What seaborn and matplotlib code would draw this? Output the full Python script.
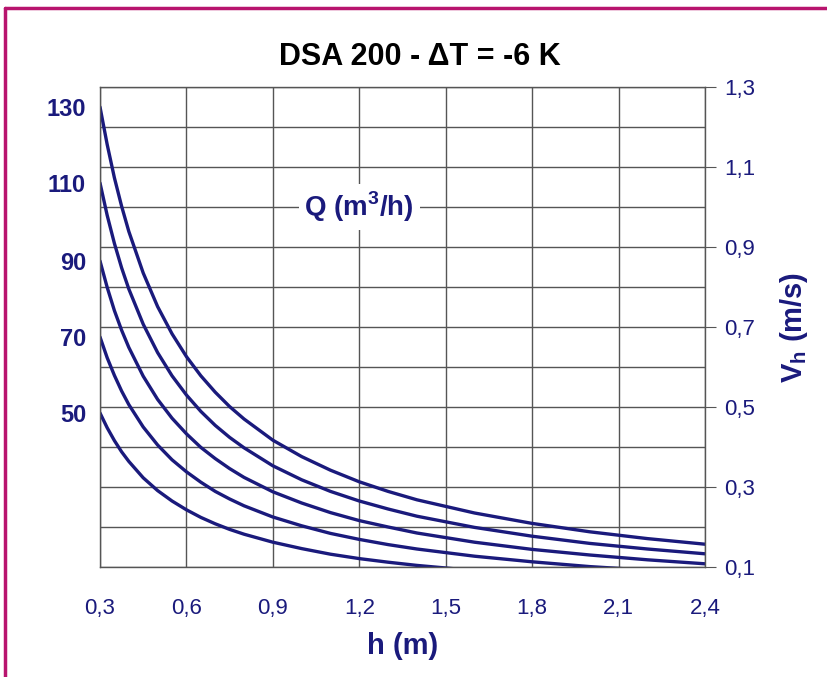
import numpy as np
import pandas as pd
import matplotlib.pyplot as plt
import seaborn as sns
from matplotlib.lines import Line2D

# values (h in m, Vh in m/s), one series per flow Q
h = [0.3, 0.325, 0.35, 0.375, 0.4, 0.45, 0.5, 0.55, 0.6, 0.65, 0.7, 0.75, 0.8,
     0.9, 1.0, 1.1, 1.2, 1.3, 1.4, 1.6, 1.8, 2.0, 2.2, 2.4]
v_130 = [1.25, 1.156, 1.073, 1.002, 0.939, 0.835, 0.751, 0.683, 0.626, 0.578,
         0.537, 0.501, 0.47, 0.417, 0.376, 0.342, 0.313, 0.289, 0.268, 0.235,
         0.209, 0.188, 0.171, 0.157]
v_110 = [1.06, 0.979, 0.909, 0.848, 0.795, 0.707, 0.636, 0.578, 0.53, 0.489,
         0.454, 0.424, 0.398, 0.353, 0.318, 0.289, 0.265, 0.245, 0.227, 0.199,
         0.177, 0.159, 0.145, 0.133]
v_90 = [0.865, 0.799, 0.741, 0.692, 0.649, 0.577, 0.519, 0.472, 0.433, 0.399,
        0.371, 0.346, 0.324, 0.288, 0.26, 0.236, 0.216, 0.2, 0.185, 0.162,
        0.144, 0.13, 0.118, 0.108]
v_70 = [0.675, 0.623, 0.579, 0.54, 0.506, 0.45, 0.405, 0.368, 0.338, 0.312,
        0.289, 0.27, 0.253, 0.225, 0.203, 0.184, 0.169, 0.156, 0.145, 0.127,
        0.113, 0.101, 0.092, 0.084]
v_50 = [0.485, 0.448, 0.416, 0.388, 0.364, 0.323, 0.291, 0.265, 0.243, 0.224,
        0.208, 0.194, 0.182, 0.162, 0.146, 0.132, 0.121, 0.112, 0.104, 0.091,
        0.081, 0.073, 0.066, 0.061]
q_labels = ['130', '110', '90', '70', '50']

x_ticks = [0.3, 0.6, 0.9, 1.2, 1.5, 1.8, 2.1, 2.4]
v_ticks = [0.1, 0.3, 0.5, 0.7, 0.9, 1.1, 1.3]
v_grid = [0.1, 0.2, 0.3, 0.4, 0.5, 0.6, 0.7, 0.8, 0.9, 1.0, 1.1, 1.2, 1.3]

navy = '#1a1a7c'
grid_c = '#555555'

rows = []
for q, vals in zip(q_labels, [v_130, v_110, v_90, v_70, v_50]):
    for hh, vv in zip(h, vals):
        rows.append({'h': hh, 'v': vv, 'Q': q})
df = pd.DataFrame(rows)

sns.set_style('white')
plt.rcParams['font.family'] = ['Liberation Sans', 'DejaVu Sans']
plt.rcParams['mathtext.fontset'] = 'custom'
plt.rcParams['mathtext.rm'] = 'Liberation Sans'
plt.rcParams['mathtext.bf'] = 'Liberation Sans:bold'

fig = plt.figure(figsize=(8.28, 6.77), dpi=100)
ax = fig.add_axes([100/828, 1 - 567/677, 605/828, 480/677])

sns.lineplot(data=df, x='h', y='v', hue='Q', palette=[navy]*5, linewidth=2.4,
             legend=False, ax=ax, sort=False, estimator=None)

ax.set_xlim(0.3, 2.4)
ax.set_ylim(0.1, 1.3)
ax.set_xticks(x_ticks)
ax.set_xticklabels([f'{t:.1f}'.replace('.', ',') for t in x_ticks])
ax.set_yticks([v[0] for v in [v_130, v_110, v_90, v_70, v_50]])
ax.set_yticklabels(q_labels, fontweight='bold')
ax.set_yticks(v_grid, minor=True)
ax.tick_params(axis='x', length=8, color=grid_c, labelsize=16, labelcolor=navy, pad=14)
ax.tick_params(axis='y', which='both', length=0, labelsize=17, labelcolor=navy, pad=10)
ax.grid(False)
ax.grid(True, which='major', axis='x', color=grid_c, linewidth=1)
ax.grid(True, which='minor', axis='y', color=grid_c, linewidth=1)
ax.set_axisbelow(True)
for s in ax.spines.values():
    s.set_color(grid_c)
    s.set_linewidth(1)
ax.set_xlabel('h (m)', fontsize=21, fontweight='bold', color=navy, labelpad=10)
ax.set_ylabel('')

ax2 = ax.twinx()
ax2.set_ylim(0.1, 1.3)
ax2.set_yticks(v_ticks)
ax2.set_yticklabels([f'{t:.1f}'.replace('.', ',') for t in v_ticks])
ax2.tick_params(axis='y', length=8, color=grid_c, labelsize=16, labelcolor=navy, pad=6)
for s in ax2.spines.values():
    s.set_visible(False)
ax2.set_ylabel(r'V$_{\mathregular{h}}$ (m/s)', fontsize=21, fontweight='bold',
               color=navy, labelpad=16)

ax.text(1.2, 1.0, r'Q (m$^{\mathbf{3}}$/h)', fontsize=20, fontweight='bold', color=navy,
        ha='center', va='center', zorder=5,
        bbox=dict(facecolor='white', edgecolor='none', pad=4))

fig.text(420/828, 1 - 57/677, 'DSA 200 - ΔT = -6 K', fontsize=22, fontweight='bold',
         ha='center', va='center', color='black')

# magenta frame (top and left edges visible)
border = '#b8146e'
fig.add_artist(Line2D([5/828, 1], [1 - 8/677, 1 - 8/677], color=border, linewidth=2.5,
                      transform=fig.transFigure))
fig.add_artist(Line2D([5/828, 5/828], [0, 1 - 8/677], color=border, linewidth=2.5,
                      transform=fig.transFigure))

fig.savefig('out.png', dpi=100)
